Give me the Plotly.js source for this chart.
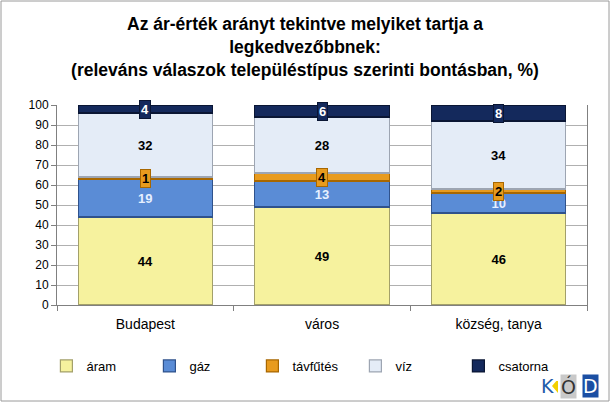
<!DOCTYPE html>
<html>
<head>
<meta charset="utf-8">
<script src="https://cdn.plot.ly/plotly-3.0.1.min.js"></script>
<style>
  body { margin: 0; padding: 0; background: #fff; }
  #chart { width: 610px; height: 402px; }
</style>
</head>
<body>
<div id="chart"></div>
<script>
// categories and values (%)
var categories = ["Budapest", "város", "község, tanya"];
var aram = [44, 49, 46];
var gaz = [19, 13, 10];
var tavfutes = [1, 4, 2];
var viz = [32, 28, 34];
var csatorna = [4, 6, 8];
var seriesNames = ["áram", "gáz", "távfűtés", "víz", "csatorna"];
var yTicks = [0, 10, 20, 30, 40, 50, 60, 70, 80, 90, 100];

var fills = ["#F6F29E", "#5A8CD6", "#E89B1E", "#E4ECF7", "#14295C"];
var edges = ["#A3A06A", "#2F528C", "#A86700", "#9DA5B2", "#0A1634"];
var textCols = ["#000000", "#E6F0FF", "#000000", "#000000", "#FFFFFF"];

var allSeries = [aram, gaz, tavfutes, viz, csatorna];
var traces = [];
for (var s = 0; s < allSeries.length; s++) {
  var small = (s == 2 || s == 4);
  traces.push({
    type: "bar",
    name: seriesNames[s],
    x: categories,
    y: allSeries[s],
    marker: { color: fills[s], line: { color: edges[s], width: 1.2 } },
    text: allSeries[s].map(String),
    textposition: small ? "none" : "inside",
    insidetextanchor: "middle",
    textangle: 0,
    constraintext: "none",
    textfont: { family: "Liberation Sans, Arial", size: 13, color: textCols[s], weight: "bold" },
    hoverinfo: "skip"
  });
}

// badge labels for the thin segments
var annotations = [];
for (var i = 0; i < categories.length; i++) {
  var base1 = aram[i] + gaz[i];
  annotations.push({
    x: categories[i], y: base1 + tavfutes[i] / 2, xref: "x", yref: "y",
    text: "<b>" + tavfutes[i] + "</b>", showarrow: false,
    font: { family: "Liberation Sans, Arial", size: 13, color: "#000" },
    bgcolor: fills[2], bordercolor: edges[2], borderwidth: 1, borderpad: 1
  });
  var base2 = base1 + tavfutes[i] + viz[i];
  annotations.push({
    x: categories[i], y: base2 + csatorna[i] / 2, xref: "x", yref: "y",
    text: "<b>" + csatorna[i] + "</b>", showarrow: false,
    font: { family: "Liberation Sans, Arial", size: 13, color: "#fff" },
    bgcolor: fills[4], bordercolor: "#0A1634", borderwidth: 1, borderpad: 1
  });
}

// KÓD logo
annotations.push({ xref: "paper", yref: "paper", x: (547 - 57) / 530, y: (305 - 386) / 200,
  xanchor: "center", yanchor: "middle", text: "K", showarrow: false,
  font: { family: "DejaVu Sans, Arial", size: 19, color: "#1F5BA8" } });
annotations.push({ xref: "paper", yref: "paper", x: (568 - 57) / 530, y: (305 - 386) / 200,
  xanchor: "center", yanchor: "middle", text: "Ó", showarrow: false,
  font: { family: "DejaVu Sans, Arial", size: 19, color: "#333" }, bgcolor: "#C9C9C9", borderpad: 0 });
annotations.push({ xref: "paper", yref: "paper", x: (590 - 57) / 530, y: (305 - 386) / 200,
  xanchor: "center", yanchor: "middle", text: "D", showarrow: false,
  font: { family: "DejaVu Sans, Arial", size: 19, color: "#fff" }, bgcolor: "#1B4FA3", borderpad: 0 });

var shapes = [
  // outer frame
  { type: "rect", xref: "paper", yref: "paper",
    x0: (1 - 57) / 530, x1: (609 - 57) / 530, y0: (305 - 401) / 200, y1: (305 - 1) / 200,
    line: { color: "#9A9A9A", width: 1 }, fillcolor: "rgba(0,0,0,0)", layer: "above" },
  // yellow triangle of the logo
  { type: "path", xref: "paper", yref: "paper",
    path: "M " + ((552 - 57) / 530) + "," + ((305 - 386) / 200) +
          " L " + ((558 - 57) / 530) + "," + ((305 - 379) / 200) +
          " L " + ((558 - 57) / 530) + "," + ((305 - 393) / 200) + " Z",
    fillcolor: "#F2D000", line: { width: 0 }, layer: "above" }
];

var layout = {
  width: 610, height: 402,
  margin: { l: 57, r: 23, t: 105, b: 97 },
  paper_bgcolor: "#fff", plot_bgcolor: "#fff",
  barmode: "stack", bargap: 0.24,
  font: { family: "Liberation Sans, Arial", color: "#000" },
  title: {
    text: "Az ár-érték arányt tekintve melyiket tartja a<br>legkedvezőbbnek:<br>(releváns válaszok településtípus szerinti bontásban, %)",
    font: { family: "Liberation Sans, Arial", size: 17.5, color: "#000", weight: "bold" },
    x: 0.5, xanchor: "center", y: 0.925, yanchor: "top"
  },
  xaxis: {
    type: "category", tickson: "boundaries", ticks: "outside", ticklen: 5,
    tickcolor: "#808080", showline: true, linecolor: "#808080",
    tickfont: { size: 14, color: "#000" }, showgrid: false, ticklabelstandoff: 6
  },
  yaxis: {
    range: [0, 100], tickvals: yTicks, ticks: "outside", ticklen: 5,
    tickcolor: "#808080", showline: true, linecolor: "#808080", mirror: true,
    gridcolor: "#B0B0B0", gridwidth: 1, zeroline: false,
    tickfont: { size: 12, color: "#000" }
  },
  legend: {
    orientation: "h", x: -0.02, y: -0.305, xanchor: "left", yanchor: "middle",
    traceorder: "normal", entrywidth: 58, itemwidth: 30,
    font: { size: 13, color: "#000" }
  },
  showlegend: true,
  annotations: annotations,
  shapes: shapes
};

Plotly.newPlot("chart", traces, layout, { displayModeBar: false, staticPlot: true });
</script>
</body>
</html>
